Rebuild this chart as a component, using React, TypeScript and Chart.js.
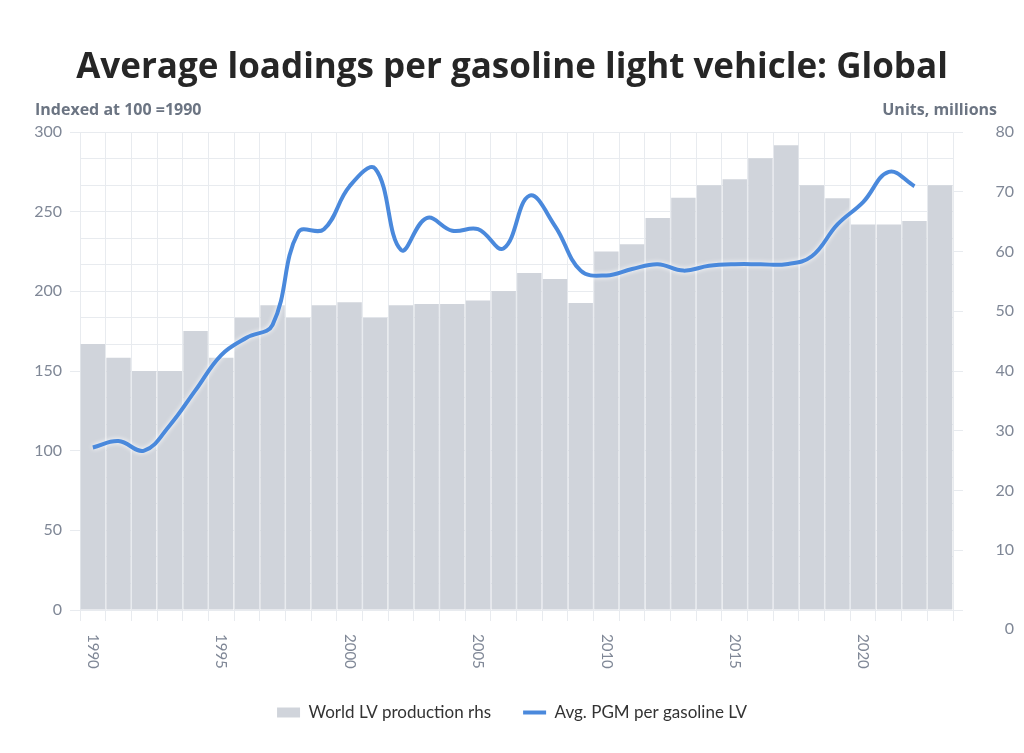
import { useEffect, useRef } from 'react';
import { Chart, registerables } from 'chart.js';

Chart.register(...registerables);

// categories
const years = [
  '1990', '1991', '1992', '1993', '1994', '1995', '1996', '1997', '1998', '1999',
  '2000', '2001', '2002', '2003', '2004', '2005', '2006', '2007', '2008', '2009',
  '2010', '2011', '2012', '2013', '2014', '2015', '2016', '2017', '2018', '2019',
  '2020', '2021', '2022', '2023',
];

// World LV production, units millions (rhs)
const production = [
  44.5, 42.2, 40.0, 40.0, 46.7, 42.2, 48.9, 51.0, 48.9, 51.0,
  51.5, 48.9, 51.0, 51.2, 51.2, 51.8, 53.4, 56.4, 55.4, 51.4,
  60.0, 61.2, 65.6, 69.0, 71.1, 72.1, 75.6, 77.8, 71.1, 68.9,
  64.5, 64.5, 65.1, 71.1,
];

// Avg. PGM per gasoline LV, indexed 100 = 1990 (lhs)
const pgmIndex = [
  102, 106, 100, 116, 138, 160, 171, 179, 237, 239,
  266, 277, 226, 246, 238, 239, 227, 260, 241, 213,
  210, 214, 217, 213, 216, 217, 217, 217, 222, 242,
  256, 275, 266, null,
];

const xTickLabels = ['1990', '1995', '2000', '2005', '2010', '2015', '2020'];
const leftTickLabels = [0, 50, 100, 150, 200, 250, 300];
const rightTickLabels = [0, 10, 20, 30, 40, 50, 60, 70, 80];

const FONT = 'Lato, "Open Sans", sans-serif';
const WIDE = '"Open Sans", Lato, sans-serif';
const GRID = '#e8ebef';
const TICK = '#7f8796';

const isLeftLabel = (v: number) => leftTickLabels.some((t) => Math.abs(t - v) < 0.01);

// white halo round the line
const glow = {
  id: 'glow',
  beforeDatasetDraw(chart: any, args: any) {
    if (args.index === 0) {
      chart.ctx.save();
      chart.ctx.shadowColor = 'rgba(255,255,255,1)';
      chart.ctx.shadowBlur = 5;
    }
  },
  afterDatasetDraw(chart: any, args: any) {
    if (args.index === 0) chart.ctx.restore();
  },
};

// rotated year labels + the two axis captions
const annotate = {
  id: 'annotate',
  afterDraw(chart: any) {
    const { ctx, chartArea, scales } = chart;
    ctx.save();
    ctx.fillStyle = TICK;
    ctx.font = `15px ${FONT}`;
    ctx.textAlign = 'left';
    ctx.textBaseline = 'middle';
    years.forEach((y, i) => {
      if (!xTickLabels.includes(y)) return;
      const px = scales.x.getPixelForValue(i);
      ctx.save();
      ctx.translate(px, chartArea.bottom + 24);
      ctx.rotate(Math.PI / 2);
      ctx.fillText(y, 0, 0);
      ctx.restore();
    });

    ctx.fillStyle = '#6b7482';
    ctx.font = `bold 16px ${WIDE}`;
    ctx.textAlign = 'left';
    ctx.fillText('Indexed at 100 =1990', 35, chartArea.top - 22);
    ctx.textAlign = 'right';
    ctx.fillText('Units, millions', 997, chartArea.top - 22);
    ctx.restore();
  },
};

export default function App() {
  const canvasRef = useRef<HTMLCanvasElement | null>(null);

  useEffect(() => {
    document.body.style.margin = '0';
    if (!canvasRef.current) return;

    const chart = new Chart(canvasRef.current, {
      type: 'bar',
      data: {
        labels: years,
        datasets: [
          {
            type: 'line',
            label: 'Avg. PGM per gasoline LV',
            data: pgmIndex,
            yAxisID: 'y',
            borderColor: '#4a89dc',
            backgroundColor: '#4a89dc',
            borderWidth: 4,
            pointRadius: 0,
            pointStyle: 'line',
            tension: 0.4,
            fill: false,
          },
          {
            type: 'bar',
            label: 'World LV production rhs',
            data: production,
            yAxisID: 'y1',
            backgroundColor: '#d0d4db',
            borderWidth: 0,
            barPercentage: 1,
            categoryPercentage: 0.95,
            pointStyle: 'rect',
          },
        ],
      } as any,
      options: {
        animation: false,
        responsive: true,
        maintainAspectRatio: false,
        layout: { padding: { left: 10, right: 10, top: 0, bottom: 22 } },
        plugins: {
          title: {
            display: true,
            text: 'Average loadings per gasoline light vehicle: Global',
            color: '#262626',
            font: { family: WIDE, size: 35, weight: 'bold' },
            padding: { top: 47, bottom: 43 },
          },
          legend: {
            position: 'bottom',
            labels: {
              usePointStyle: true,
              pointStyleWidth: 23,
              boxHeight: 10,
              padding: 32,
              color: '#333333',
              font: { family: FONT, size: 17 },
              sort: (a: any, b: any) => b.datasetIndex - a.datasetIndex,
            },
          },
          tooltip: { enabled: false },
        },
        scales: {
          x: {
            offset: true,
            grid: { offset: true, color: GRID, tickLength: 11, tickColor: GRID },
            border: { color: GRID },
            ticks: { display: false, autoSkip: false },
            afterFit: (s: any) => {
              s.height = 62;
            },
          },
          y: {
            position: 'left',
            min: 0,
            max: 300,
            ticks: {
              count: 19,
              padding: 8,
              autoSkip: false,
              color: TICK,
              font: { family: FONT, size: 16 },
              callback: (v: any) => (isLeftLabel(Number(v)) ? String(Math.round(Number(v))) : ''),
            },
            grid: {
              color: GRID,
              tickLength: 10,
              tickColor: (c: any) => (c.tick && isLeftLabel(c.tick.value) ? GRID : 'rgba(0,0,0,0)'),
            },
            border: { display: false },
            afterFit: (s: any) => {
              s.width = 70;
            },
          },
          y1: {
            position: 'right',
            min: 0,
            max: 80,
            afterBuildTicks: (s: any) => {
              s.ticks = rightTickLabels.map((v) => ({ value: v }));
            },
            ticks: {
              padding: 17,
              autoSkip: false,
              crossAlign: 'far',
              color: TICK,
              font: { family: FONT, size: 16 },
              callback: (v: any) => (Number(v) === 0 ? ['', '', '0'] : String(v)),
            },
            grid: { drawOnChartArea: false, color: GRID, tickLength: 10 },
            border: { display: false },
            afterFit: (s: any) => {
              s.width = 61;
            },
          },
        },
      } as any,
      plugins: [glow, annotate],
    });

    return () => chart.destroy();
  }, []);

  return (
    <div style={{ position: 'relative', width: 1024, height: 753, background: '#ffffff' }}>
      <canvas ref={canvasRef} />
    </div>
  );
}
